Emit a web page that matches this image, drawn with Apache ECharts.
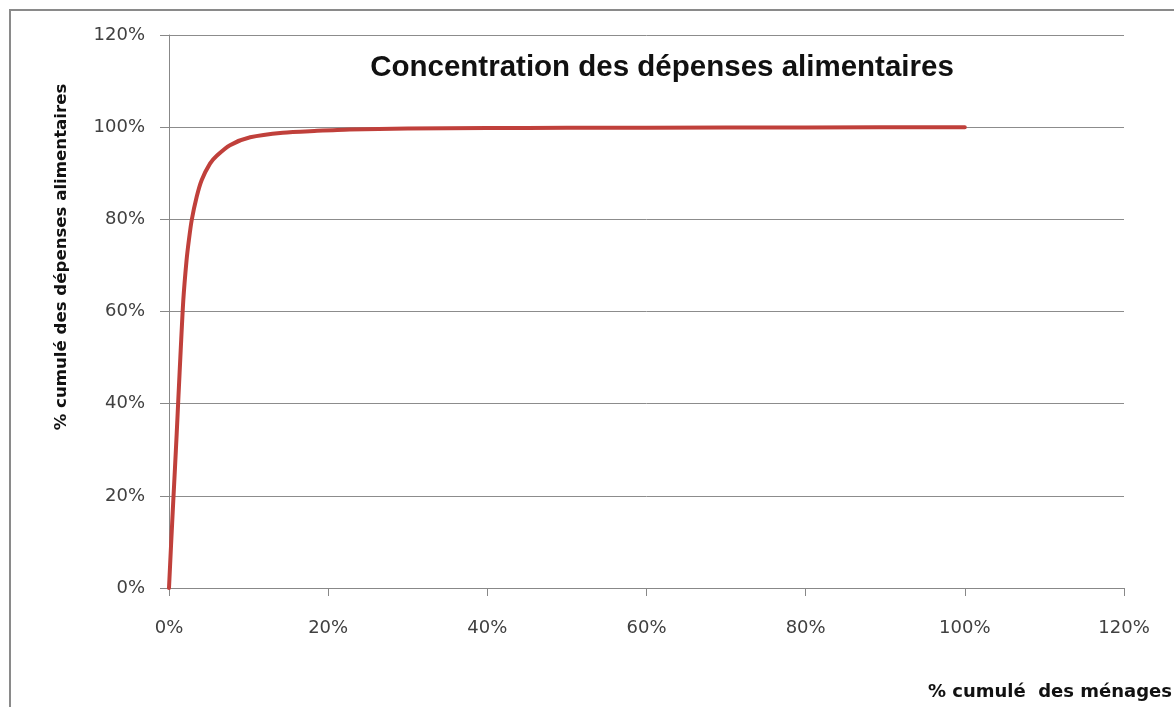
<!DOCTYPE html>
<html>
<head>
<meta charset="utf-8">
<script src="https://cdn.jsdelivr.net/npm/echarts@6/dist/echarts.min.js"></script>
<style>
html,body{margin:0;padding:0;background:#fff;}
#chart{width:1174px;height:707px;}
</style>
</head>
<body>
<div id="chart"></div>
<script>
// cumulative % of households (x) and cumulative % of food spending (y)
var xMenages = [0, 0.25, 0.54, 0.75, 0.97, 1.2, 1.47, 1.8, 2.2, 2.5, 2.85, 3.48, 4.1, 5.15, 6, 7.66, 10.2, 14.3, 18.6, 22.7, 30, 40, 50, 60, 80, 100];
var yDepenses = [0, 9, 19, 26, 33.6, 42, 51.6, 62.5, 71, 75.5, 79.8, 84.9, 88.5, 92.1, 93.8, 96.1, 97.8, 98.8, 99.2, 99.5, 99.7, 99.8, 99.85, 99.9, 99.95, 100];
var titleText = 'Concentration des dépenses alimentaires';
var yName = '% cumulé des dépenses alimentaires';
var xName = '% cumulé  des ménages';

var points = xMenages.map(function (x, i) { return [x, yDepenses[i]]; });

var chart = echarts.init(document.getElementById('chart'), null, {renderer: 'canvas'});
var labelFont = {fontFamily: 'DejaVu Sans', fontSize: 18, color: '#404040'};
chart.setOption({
  animation: false,
  backgroundColor: '#ffffff',
  grid: {left: 169, right: 50, top: 35, bottom: 119, containLabel: false},
  xAxis: {
    type: 'value', min: 0, max: 120, interval: 20,
    axisLine: {show: true, lineStyle: {color: '#888888', width: 1}},
    axisTick: {show: true, inside: false, length: 8, lineStyle: {color: '#888888'}},
    axisLabel: Object.assign({formatter: '{value}%', margin: 31}, labelFont),
    splitLine: {show: false}
  },
  yAxis: {
    type: 'value', min: 0, max: 120, interval: 20,
    axisLine: {show: true, lineStyle: {color: '#888888', width: 1}},
    axisTick: {show: true, inside: false, length: 9, lineStyle: {color: '#888888'}},
    axisLabel: Object.assign({formatter: '{value}%', margin: 24}, labelFont),
    splitLine: {show: true, lineStyle: {color: '#8c8c8c', width: 1}}
  },
  series: [{
    type: 'line',
    data: points,
    smooth: 0.25,
    showSymbol: false,
    lineStyle: {color: '#c0403b', width: 4, cap: 'round', join: 'round'},
    z: 5
  }],
  graphic: [
    {type: 'polyline', silent: true, z: -1,
     shape: {points: [[10, 720], [10, 10], [1190, 10]]},
     style: {fill: null, stroke: '#8a8a8a', lineWidth: 2}},
    {type: 'text', x: 662, y: 68, silent: true,
     style: {text: titleText, fontFamily: 'Liberation Sans', fontWeight: 'bold', fontSize: 29.5,
             fill: '#111', align: 'center', verticalAlign: 'middle'}},
    {type: 'text', x: 62, y: 257, rotation: Math.PI / 2, silent: true,
     style: {text: yName, fontFamily: 'DejaVu Sans', fontWeight: 'bold', fontSize: 16.6,
             fill: '#111', align: 'center', verticalAlign: 'middle'}},
    {type: 'text', x: 1050, y: 692, silent: true,
     style: {text: xName, fontFamily: 'DejaVu Sans', fontWeight: 'bold', fontSize: 18,
             fill: '#111', align: 'center', verticalAlign: 'middle'}}
  ]
});
</script>
</body>
</html>
